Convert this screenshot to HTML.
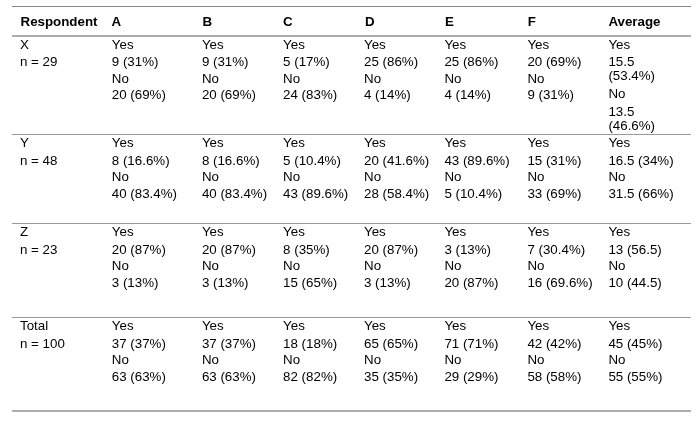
<!DOCTYPE html>
<html><head><meta charset="utf-8"><title>Survey responses</title><style>
html,body{margin:0;padding:0;background:#fff;}
body{width:700px;height:421px;position:relative;overflow:hidden;font-family:"Liberation Sans",Arial,sans-serif;font-size:13.33px;color:#000;}
.ln{position:absolute;left:12px;width:679px;}
.t{position:absolute;white-space:nowrap;line-height:15px;}
.h{font-weight:bold;}
#w{position:absolute;left:0;top:0;width:700px;height:421px;will-change:transform;}
</style></head><body>
<div class="ln" style="top:6px;height:1px;background:#888"></div>
<div class="ln" style="top:35px;height:2px;background:#adadad"></div>
<div class="ln" style="top:134px;height:1px;background:#999"></div>
<div class="ln" style="top:223px;height:1px;background:#999"></div>
<div class="ln" style="top:317px;height:1px;background:#999"></div>
<div class="ln" style="top:410px;height:2px;background:#adadad"></div>
<div id="w">
<div class="t h" style="left:20.5px;top:14px">Respondent</div>
<div class="t h" style="left:111.6px;top:14px">A</div>
<div class="t h" style="left:202.4px;top:14px">B</div>
<div class="t h" style="left:283.1px;top:14px">C</div>
<div class="t h" style="left:364.9px;top:14px">D</div>
<div class="t h" style="left:445.1px;top:14px">E</div>
<div class="t h" style="left:527.7px;top:14px">F</div>
<div class="t h" style="left:608.4px;top:14px">Average</div>
<div class="t" style="left:20px;top:37px">X</div>
<div class="t" style="left:20px;top:54px">n = 29</div>
<div class="t" style="left:111.8px;top:37px">Yes</div>
<div class="t" style="left:111.8px;top:54px">9 (31%)</div>
<div class="t" style="left:111.8px;top:71px">No</div>
<div class="t" style="left:111.8px;top:87px">20 (69%)</div>
<div class="t" style="left:201.9px;top:37px">Yes</div>
<div class="t" style="left:201.9px;top:54px">9 (31%)</div>
<div class="t" style="left:201.9px;top:71px">No</div>
<div class="t" style="left:201.9px;top:87px">20 (69%)</div>
<div class="t" style="left:283.1px;top:37px">Yes</div>
<div class="t" style="left:283.1px;top:54px">5 (17%)</div>
<div class="t" style="left:283.1px;top:71px">No</div>
<div class="t" style="left:283.1px;top:87px">24 (83%)</div>
<div class="t" style="left:364px;top:37px">Yes</div>
<div class="t" style="left:364px;top:54px">25 (86%)</div>
<div class="t" style="left:364px;top:71px">No</div>
<div class="t" style="left:364px;top:87px">4 (14%)</div>
<div class="t" style="left:444.4px;top:37px">Yes</div>
<div class="t" style="left:444.4px;top:54px">25 (86%)</div>
<div class="t" style="left:444.4px;top:71px">No</div>
<div class="t" style="left:444.4px;top:87px">4 (14%)</div>
<div class="t" style="left:527.4px;top:37px">Yes</div>
<div class="t" style="left:527.4px;top:54px">20 (69%)</div>
<div class="t" style="left:527.4px;top:71px">No</div>
<div class="t" style="left:527.4px;top:87px">9 (31%)</div>
<div class="t" style="left:608.4px;top:37px">Yes</div>
<div class="t" style="left:608.4px;top:54px">15.5</div>
<div class="t" style="left:608.4px;top:68px">(53.4%)</div>
<div class="t" style="left:608.4px;top:86px">No</div>
<div class="t" style="left:608.4px;top:104px">13.5</div>
<div class="t" style="left:608.4px;top:118px">(46.6%)</div>
<div class="t" style="left:20px;top:135px">Y</div>
<div class="t" style="left:20px;top:153px">n = 48</div>
<div class="t" style="left:111.8px;top:135px">Yes</div>
<div class="t" style="left:111.8px;top:153px">8 (16.6%)</div>
<div class="t" style="left:111.8px;top:169px">No</div>
<div class="t" style="left:111.8px;top:186px">40 (83.4%)</div>
<div class="t" style="left:201.9px;top:135px">Yes</div>
<div class="t" style="left:201.9px;top:153px">8 (16.6%)</div>
<div class="t" style="left:201.9px;top:169px">No</div>
<div class="t" style="left:201.9px;top:186px">40 (83.4%)</div>
<div class="t" style="left:283.1px;top:135px">Yes</div>
<div class="t" style="left:283.1px;top:153px">5 (10.4%)</div>
<div class="t" style="left:283.1px;top:169px">No</div>
<div class="t" style="left:283.1px;top:186px">43 (89.6%)</div>
<div class="t" style="left:364px;top:135px">Yes</div>
<div class="t" style="left:364px;top:153px">20 (41.6%)</div>
<div class="t" style="left:364px;top:169px">No</div>
<div class="t" style="left:364px;top:186px">28 (58.4%)</div>
<div class="t" style="left:444.4px;top:135px">Yes</div>
<div class="t" style="left:444.4px;top:153px">43 (89.6%)</div>
<div class="t" style="left:444.4px;top:169px">No</div>
<div class="t" style="left:444.4px;top:186px">5 (10.4%)</div>
<div class="t" style="left:527.4px;top:135px">Yes</div>
<div class="t" style="left:527.4px;top:153px">15 (31%)</div>
<div class="t" style="left:527.4px;top:169px">No</div>
<div class="t" style="left:527.4px;top:186px">33 (69%)</div>
<div class="t" style="left:608.4px;top:135px">Yes</div>
<div class="t" style="left:608.4px;top:153px">16.5 (34%)</div>
<div class="t" style="left:608.4px;top:169px">No</div>
<div class="t" style="left:608.4px;top:186px">31.5 (66%)</div>
<div class="t" style="left:20px;top:224px">Z</div>
<div class="t" style="left:20px;top:242px">n = 23</div>
<div class="t" style="left:111.8px;top:224px">Yes</div>
<div class="t" style="left:111.8px;top:242px">20 (87%)</div>
<div class="t" style="left:111.8px;top:258px">No</div>
<div class="t" style="left:111.8px;top:275px">3 (13%)</div>
<div class="t" style="left:201.9px;top:224px">Yes</div>
<div class="t" style="left:201.9px;top:242px">20 (87%)</div>
<div class="t" style="left:201.9px;top:258px">No</div>
<div class="t" style="left:201.9px;top:275px">3 (13%)</div>
<div class="t" style="left:283.1px;top:224px">Yes</div>
<div class="t" style="left:283.1px;top:242px">8 (35%)</div>
<div class="t" style="left:283.1px;top:258px">No</div>
<div class="t" style="left:283.1px;top:275px">15 (65%)</div>
<div class="t" style="left:364px;top:224px">Yes</div>
<div class="t" style="left:364px;top:242px">20 (87%)</div>
<div class="t" style="left:364px;top:258px">No</div>
<div class="t" style="left:364px;top:275px">3 (13%)</div>
<div class="t" style="left:444.4px;top:224px">Yes</div>
<div class="t" style="left:444.4px;top:242px">3 (13%)</div>
<div class="t" style="left:444.4px;top:258px">No</div>
<div class="t" style="left:444.4px;top:275px">20 (87%)</div>
<div class="t" style="left:527.4px;top:224px">Yes</div>
<div class="t" style="left:527.4px;top:242px">7 (30.4%)</div>
<div class="t" style="left:527.4px;top:258px">No</div>
<div class="t" style="left:527.4px;top:275px">16 (69.6%)</div>
<div class="t" style="left:608.4px;top:224px">Yes</div>
<div class="t" style="left:608.4px;top:242px">13 (56.5)</div>
<div class="t" style="left:608.4px;top:258px">No</div>
<div class="t" style="left:608.4px;top:275px">10 (44.5)</div>
<div class="t" style="left:20px;top:318px">Total</div>
<div class="t" style="left:20px;top:336px">n = 100</div>
<div class="t" style="left:111.8px;top:318px">Yes</div>
<div class="t" style="left:111.8px;top:336px">37 (37%)</div>
<div class="t" style="left:111.8px;top:352px">No</div>
<div class="t" style="left:111.8px;top:369px">63 (63%)</div>
<div class="t" style="left:201.9px;top:318px">Yes</div>
<div class="t" style="left:201.9px;top:336px">37 (37%)</div>
<div class="t" style="left:201.9px;top:352px">No</div>
<div class="t" style="left:201.9px;top:369px">63 (63%)</div>
<div class="t" style="left:283.1px;top:318px">Yes</div>
<div class="t" style="left:283.1px;top:336px">18 (18%)</div>
<div class="t" style="left:283.1px;top:352px">No</div>
<div class="t" style="left:283.1px;top:369px">82 (82%)</div>
<div class="t" style="left:364px;top:318px">Yes</div>
<div class="t" style="left:364px;top:336px">65 (65%)</div>
<div class="t" style="left:364px;top:352px">No</div>
<div class="t" style="left:364px;top:369px">35 (35%)</div>
<div class="t" style="left:444.4px;top:318px">Yes</div>
<div class="t" style="left:444.4px;top:336px">71 (71%)</div>
<div class="t" style="left:444.4px;top:352px">No</div>
<div class="t" style="left:444.4px;top:369px">29 (29%)</div>
<div class="t" style="left:527.4px;top:318px">Yes</div>
<div class="t" style="left:527.4px;top:336px">42 (42%)</div>
<div class="t" style="left:527.4px;top:352px">No</div>
<div class="t" style="left:527.4px;top:369px">58 (58%)</div>
<div class="t" style="left:608.4px;top:318px">Yes</div>
<div class="t" style="left:608.4px;top:336px">45 (45%)</div>
<div class="t" style="left:608.4px;top:352px">No</div>
<div class="t" style="left:608.4px;top:369px">55 (55%)</div>
</div>
</body></html>
